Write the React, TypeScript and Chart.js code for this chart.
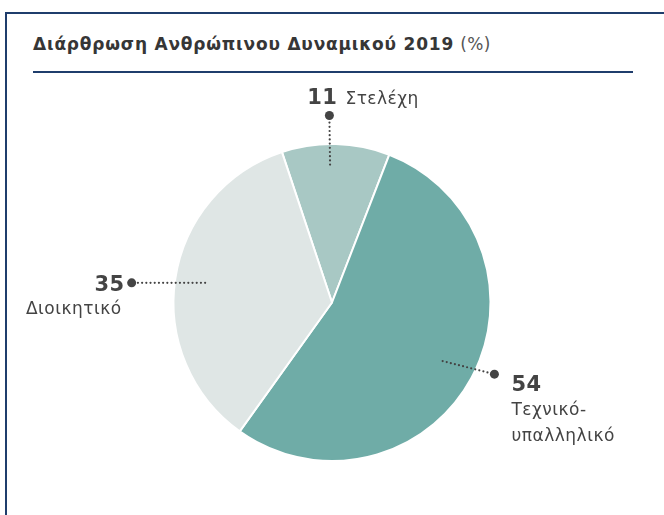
import { useEffect, useRef } from "react";
import { Chart, registerables } from "chart.js";

Chart.register(...registerables);

// ---- data ----
const categories = ["Στελέχη", "Τεχνικό-υπαλληλικό", "Διοικητικό"];
const labelLines = [["Στελέχη"], ["Τεχνικό-", "υπαλληλικό"], ["Διοικητικό"]];
const values = [11, 54, 35];
const titleText = "Διάρθρωση Ανθρώπινου Δυναμικού 2019";
const unitText = "(%)";

// ---- styles ----
const sliceColors = ["#a8c8c4", "#6faca7", "#dfe6e5"];
const NAVY = "#1f3d6c";
const TEXT = "#444444";
const FONT = "'DejaVu Sans', sans-serif";

// leader layout per slice: angle offsets (deg) from slice middle, radius factors, label side
const leaderInnerOffset = [-2.2, -0.5, 0.2];
const leaderOuterOffset = [-2.2, -4.6, -3.0];
const leaderInnerR = [0.87, 0.79, 0.81];
const leaderOuterR = [1.18, 1.12, 1.27];
const leaderSide = ["top", "right", "left"];

const labelPlugin = {
  id: "leaderLabels",
  afterDatasetsDraw(chart: any) {
    const ctx = chart.ctx;
    const meta = chart.getDatasetMeta(0);
    meta.data.forEach((arc: any, i: number) => {
      const p = arc.getProps(["x", "y", "startAngle", "endAngle", "outerRadius"], true);
      const mid = (p.startAngle + p.endAngle) / 2;
      const a1 = mid + (leaderInnerOffset[i] * Math.PI) / 180;
      const a2 = mid + (leaderOuterOffset[i] * Math.PI) / 180;
      const x1 = p.x + Math.cos(a1) * p.outerRadius * leaderInnerR[i];
      const y1 = p.y + Math.sin(a1) * p.outerRadius * leaderInnerR[i];
      const x2 = p.x + Math.cos(a2) * p.outerRadius * leaderOuterR[i];
      const y2 = p.y + Math.sin(a2) * p.outerRadius * leaderOuterR[i];
      ctx.save();
      ctx.strokeStyle = TEXT;
      ctx.lineWidth = 2.2;
      ctx.lineCap = "round";
      ctx.setLineDash([0, 4.2]);
      ctx.beginPath();
      ctx.moveTo(x1, y1);
      ctx.lineTo(x2, y2);
      ctx.stroke();
      ctx.setLineDash([]);
      ctx.fillStyle = TEXT;
      ctx.beginPath();
      ctx.arc(x2, y2, 4.5, 0, Math.PI * 2);
      ctx.fill();

      const num = String(values[i]);
      const lines = labelLines[i];
      ctx.textBaseline = "alphabetic";
      (ctx as any).letterSpacing = "0.5px";
      const side = leaderSide[i];
      if (side === "top") {
        ctx.font = `bold 21px ${FONT}`;
        ctx.textAlign = "right";
        ctx.fillText(num, x2 + 8, y2 - 11);
        ctx.font = `17px ${FONT}`;
        ctx.textAlign = "left";
        ctx.fillText(lines[0], x2 + 16, y2 - 11);
      } else if (side === "left") {
        ctx.font = `bold 21px ${FONT}`;
        ctx.textAlign = "right";
        ctx.fillText(num, x2 - 7, y2 + 8);
        ctx.font = `17px ${FONT}`;
        lines.forEach((t, k) => ctx.fillText(t, x2 - 10, y2 + 31 + k * 26));
      } else {
        ctx.font = `bold 21px ${FONT}`;
        ctx.textAlign = "left";
        ctx.fillText(num, x2 + 17, y2 + 17);
        ctx.font = `17px ${FONT}`;
        lines.forEach((t, k) => ctx.fillText(t, x2 + 17, y2 + 41 + k * 26));
      }
      ctx.restore();
    });
  },
};

function PieChart() {
  const ref = useRef<HTMLCanvasElement>(null);
  useEffect(() => {
    if (!ref.current) return;
    const chart = new Chart(ref.current, {
      type: "pie",
      data: {
        labels: categories,
        datasets: [
          {
            data: values,
            backgroundColor: sliceColors,
            borderColor: "#ffffff",
            borderWidth: 2,
            hoverOffset: 0,
          },
        ],
      },
      options: {
        responsive: false,
        maintainAspectRatio: false,
        animation: false,
        events: [],
        rotation: -18.4,
        layout: { padding: { top: 143, bottom: 53, left: 0, right: 0 } },
        plugins: {
          legend: { display: false },
          tooltip: { enabled: false },
          title: { display: false },
        },
      },
      plugins: [labelPlugin],
    });
    return () => chart.destroy();
  }, []);
  return (
    <canvas
      ref={ref}
      width={664}
      height={515}
      style={{ position: "absolute", left: 0, top: 0, width: 664, height: 515 }}
    />
  );
}

export default function App() {
  return (
    <div
      style={{
        position: "fixed",
        left: 0,
        top: 0,
        width: 664,
        height: 515,
        overflow: "hidden",
        background: "#ffffff",
      }}
    >
      <div
        style={{
          position: "absolute",
          left: 5,
          top: 12,
          width: 720,
          height: 600,
          borderLeft: `2px solid ${NAVY}`,
          borderTop: `2px solid ${NAVY}`,
        }}
      />
      <div
        style={{
          position: "absolute",
          left: 33,
          top: 35,
          fontFamily: FONT,
          fontSize: 17,
          lineHeight: "19px",
          color: "#363636",
          whiteSpace: "nowrap",
          letterSpacing: "0.8px",
        }}
      >
        <span style={{ fontWeight: "bold" }}>{titleText}</span>{" "}
        <span style={{ fontWeight: "normal", color: "#555", letterSpacing: "0.3px" }}>{unitText}</span>
      </div>
      <div
        style={{
          position: "absolute",
          left: 33,
          top: 71,
          width: 600,
          height: 2,
          background: NAVY,
        }}
      />
      <PieChart />
    </div>
  );
}
